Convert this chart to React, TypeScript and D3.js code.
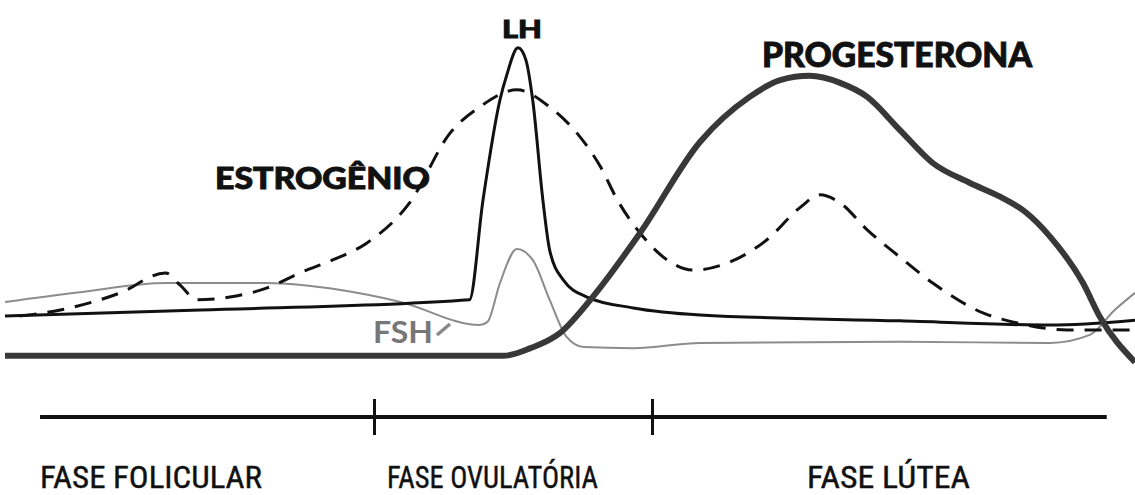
import * as d3 from "d3";

// x: position in the cycle (0-100), y: relative hormone level (0-100)
const progesterone: [number, number][] = [
  [0, 6.9], [44.1, 6.9], [46.5, 9.1], [49.1, 13.4], [52.0, 23.7], [56.2, 42.0],
  [61.5, 68.0], [65.9, 80.9], [68.6, 85.7], [71.2, 86.9], [73.9, 84.9], [76.3, 80.9],
  [79.2, 71.4], [82.1, 62.0], [85.4, 56.3], [88.1, 52.3], [90.3, 48.0], [92.5, 40.9],
  [95.4, 27.7], [96.9, 18.0], [100, 5.1],
];

const lh: [number, number][] = [
  [0, 18.3], [17.3, 20.0], [41.1, 22.9], [42.3, 51.4], [43.8, 80.0], [44.4, 87.1],
  [45.4, 94.9], [46.1, 91.4], [46.7, 80.0], [47.6, 51.4], [48.2, 37.1], [49.4, 28.6],
  [51.5, 23.7], [55.6, 20.6], [61.5, 18.6], [79.2, 16.9], [92.5, 15.7], [100, 17.1],
];

const fsh: [number, number][] = [
  [0, 22.3], [6.6, 25.1], [14.3, 27.7], [23.2, 27.7], [29.7, 25.7], [35.0, 22.3],
  [42.0, 15.7], [42.7, 16.6], [43.8, 27.7], [45.3, 37.4], [46.7, 34.3], [48.2, 22.9],
  [49.7, 12.3], [51.2, 9.4], [55.6, 9.1], [61.5, 10.6], [79.2, 10.9], [92.5, 10.6],
  [96.0, 12.9], [98.2, 20.0], [100, 24.9],
];

const estrogen: [number, number][] = [
  [1.3, 18.3], [4.9, 20.0], [10.2, 24.9], [14.2, 30.6], [15.5, 27.1], [17.0, 22.9],
  [19.9, 23.7], [23.2, 26.3], [26.1, 30.6], [29.0, 34.3], [32.0, 39.1], [35.8, 50.6],
  [39.4, 70.6], [42.0, 78.0], [45.3, 82.9], [48.2, 78.0], [50.6, 70.6], [52.7, 60.9],
  [54.2, 51.4], [56.2, 42.0], [58.6, 34.3], [60.9, 31.4], [63.9, 33.4], [67.4, 40.0],
  [70.4, 49.4], [72.1, 52.9], [73.9, 50.6], [76.3, 42.9], [79.2, 35.1], [82.1, 27.7],
  [86.6, 19.1], [89.6, 16.3], [94.0, 14.3], [100, 14.3],
];

const phaseBounds = [3.1, 32.7, 57.3, 97.5];
const phaseLabels = ["FASE  FOLICULAR", "FASE OVULATÓRIA", "FASE LÚTEA"];

const W = 1135;
const H = 495;

const x = d3.scaleLinear().domain([0, 100]).range([5, 1135]);
const y = d3.scaleLinear().domain([0, 100]).range([380, 30]);

const line = d3
  .line<[number, number]>()
  .x((d) => x(d[0]))
  .y((d) => y(d[1]))
  .curve(d3.curveMonotoneX);

const boldFont = "Lato, 'Open Sans', sans-serif";
const narrowFont = "'Liberation Sans Narrow', 'Arial Narrow', 'Roboto Condensed', sans-serif";

export default function App() {
  const axisY = 417;
  return (
    <svg
      width={W}
      height={H}
      style={{ position: "absolute", left: 0, top: 0, background: "#fff" }}
    >
      <rect width={W} height={H} fill="#fff" />

      <path d={line(fsh) ?? ""} fill="none" stroke="#8c8c8c" strokeWidth={2} />
      <path d={line(lh) ?? ""} fill="none" stroke="#111" strokeWidth={3} strokeLinejoin="round" />
      <path
        d={line(estrogen) ?? ""}
        fill="none"
        stroke="#111"
        strokeWidth={3}
        strokeDasharray="17 11"
      />
      <path d={line(progesterone) ?? ""} fill="none" stroke="#383838" strokeWidth={6} />

      {/* hormone labels */}
      <g fontFamily={boldFont} fontWeight={900} fill="#111" stroke="#111" strokeWidth={0.9}>
        <text x={522} y={38} fontSize={24} textAnchor="middle"
          textLength={40} lengthAdjust="spacingAndGlyphs">LH</text>
        <text x={762} y={67} fontSize={34}
          textLength={270} lengthAdjust="spacingAndGlyphs">PROGESTERONA</text>
        <text x={215} y={189} fontSize={30}
          textLength={215} lengthAdjust="spacingAndGlyphs">ESTROGÊNIO</text>
      </g>
      <text x={373} y={343} fontFamily={boldFont} fontWeight={700} fontSize={31}
        textLength={60} lengthAdjust="spacingAndGlyphs" fill="#777">FSH</text>
      <line x1={437} y1={335} x2={450} y2={324} stroke="#888" strokeWidth={3.5} />

      {/* phase axis */}
      <line x1={x(phaseBounds[0])} x2={x(phaseBounds[3])} y1={axisY} y2={axisY}
        stroke="#111" strokeWidth={4} />
      {phaseBounds.slice(1, 3).map((b) => (
        <line key={b} x1={x(b)} x2={x(b)} y1={axisY - 18} y2={axisY + 18}
          stroke="#111" strokeWidth={3} />
      ))}
      {phaseLabels.map((label, i) => {
        const widths = [222, 211, 163];
        const lefts = [x(phaseBounds[0]), 387, 807];
        return (
          <text key={label} x={lefts[i]} y={488} fontFamily={narrowFont} fontSize={32}
            textLength={widths[i]} lengthAdjust="spacingAndGlyphs" fill="#111"
            stroke="#111" strokeWidth={0.4}>
            {label}
          </text>
        );
      })}
    </svg>
  );
}
